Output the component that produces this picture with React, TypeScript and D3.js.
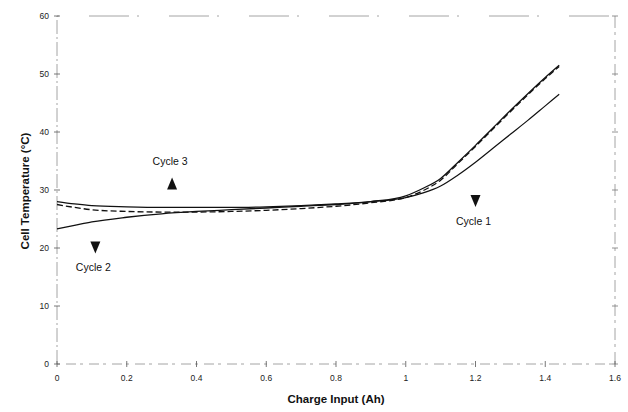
import React from "react";
import * as d3 from "d3";

const chargeAh = [0, 0.05, 0.1, 0.2, 0.3, 0.4, 0.5, 0.6, 0.7, 0.8, 0.9, 1.0, 1.05, 1.1, 1.15, 1.2, 1.25, 1.3, 1.35, 1.4, 1.44];
const cycle1 = [28.0, 27.6, 27.3, 27.1, 27.0, 27.0, 27.0, 27.1, 27.3, 27.6, 28.0, 28.7, 29.5, 30.7, 32.6, 34.8, 37.2, 39.6, 42.0, 44.5, 46.5];
const cycle2 = [23.3, 23.9, 24.5, 25.3, 25.9, 26.3, 26.6, 26.9, 27.2, 27.5, 28.0, 29.0, 30.3, 32.0, 34.8, 37.7, 40.7, 43.7, 46.6, 49.4, 51.5];
const cycle3 = [27.5, 27.0, 26.6, 26.3, 26.2, 26.2, 26.3, 26.5, 26.8, 27.2, 27.8, 28.7, 29.9, 31.7, 34.6, 37.5, 40.5, 43.5, 46.4, 49.2, 51.3];

const xTicks = [0, 0.2, 0.4, 0.6, 0.8, 1, 1.2, 1.4, 1.6];
const yTicks = [0, 10, 20, 30, 40, 50, 60];

const annotations = [
  { label: "Cycle 3", x: 0.33, y: 31.1, dir: "up" },
  { label: "Cycle 2", x: 0.11, y: 20.1, dir: "down" },
  { label: "Cycle 1", x: 1.2, y: 28.1, dir: "down" },
];

export default function App() {
  const W = 628, H = 412;
  const x = d3.scaleLinear().domain([0, 1.6]).range([57, 615]);
  const y = d3.scaleLinear().domain([0, 60]).range([364, 16]);
  const line = (vals: number[]) =>
    d3.line<number>().x((_, i) => x(chargeAh[i])).y((v) => y(v)).curve(d3.curveMonotoneX)(vals) || "";
  const axisColor = "#9a9a9a";
  const font = "Liberation Sans, Arial, sans-serif";

  return (
    <div style={{ position: "absolute", left: 0, top: 0 }}>
      <svg width={W} height={H} style={{ display: "block", background: "#fff" }}>
        {/* frame */}
        <g stroke={axisColor} strokeWidth={0.9} fill="none">
          <line x1={x(0)} x2={x(0)} y1={y(0)} y2={y(60)} strokeDasharray="14 3 2 3" />
          <line x1={x(1.6)} x2={x(1.6)} y1={y(0)} y2={y(60)} strokeDasharray="12 5 3 4" />
          <line x1={x(0)} x2={x(1.6)} y1={y(0)} y2={y(0)} strokeDasharray="3 6 10 4" />
          <line x1={x(0)} x2={x(1.6)} y1={y(60)} y2={y(60)} strokeDasharray="2 30 40 8" />
        </g>
        {/* y ticks */}
        {yTicks.map((t) => (
          <g key={"y" + t}>
            <line x1={x(0) - 3} x2={x(0) + 3} y1={y(t)} y2={y(t)} stroke="#555" strokeWidth={0.8} />
            <line x1={x(1.6) - 3} x2={x(1.6) + 3} y1={y(t)} y2={y(t)} stroke="#777" strokeWidth={0.8} />
            <text x={49} y={y(t) + 3} textAnchor="end" fontSize={8.5} fontFamily={font} fill="#222">
              {t}
            </text>
          </g>
        ))}
        {/* x ticks */}
        {xTicks.map((t) => (
          <g key={"x" + t}>
            <line x1={x(t)} x2={x(t)} y1={y(0) - 3} y2={y(0) + 3} stroke="#555" strokeWidth={0.8} />
            <text x={x(t)} y={381} textAnchor="middle" fontSize={8.5} fontFamily={font} fill="#222">
              {d3.format("~g")(t)}
            </text>
          </g>
        ))}
        {/* series */}
        <path d={line(cycle1)} fill="none" stroke="#111" strokeWidth={1.2} />
        <path d={line(cycle2)} fill="none" stroke="#111" strokeWidth={1.3} />
        <path d={line(cycle3)} fill="none" stroke="#111" strokeWidth={1.3} strokeDasharray="6 3" />
        {/* annotations */}
        {annotations.map((a) => {
          const cx = x(a.x);
          const cy = y(a.y);
          const tri =
            a.dir === "up"
              ? `M${cx - 5},${cy + 6}L${cx + 5},${cy + 6}L${cx},${cy - 6}Z`
              : `M${cx - 5},${cy - 6}L${cx + 5},${cy - 6}L${cx},${cy + 6}Z`;
          const ty = a.dir === "up" ? cy - 18.5 : cy + 23.5;
          return (
            <g key={a.label}>
              <path d={tri} fill="#111" />
              <text x={cx - 2} y={ty} textAnchor="middle" fontSize={10.5} fontFamily={font} fill="#111">
                {a.label}
              </text>
            </g>
          );
        })}
        {/* axis titles */}
        <text x={336} y={403} textAnchor="middle" fontSize={11.5} fontWeight="bold" fontFamily={font} fill="#111">
          Charge Input (Ah)
        </text>
        <text
          transform={`translate(29,191) rotate(-90)`}
          textAnchor="middle"
          fontSize={11.5}
          fontWeight="bold"
          fontFamily={font}
          fill="#111"
        >
          Cell Temperature (°C)
        </text>
      </svg>
    </div>
  );
}
